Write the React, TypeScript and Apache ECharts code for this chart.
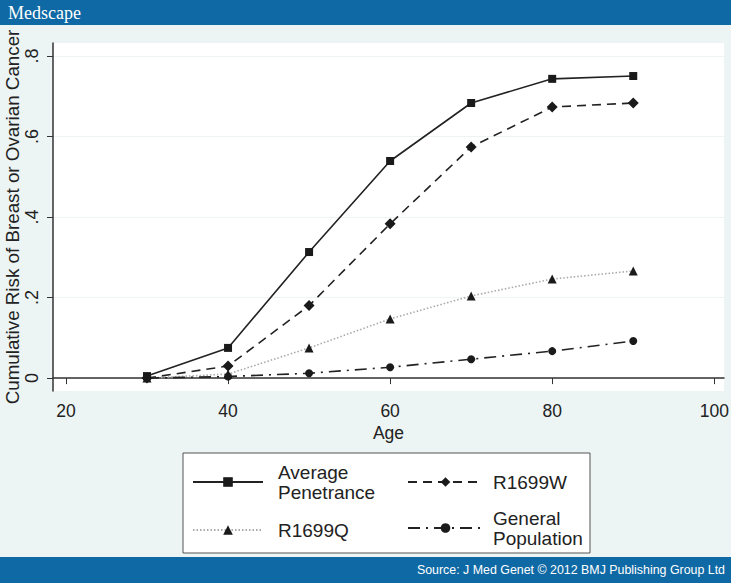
import React, { useEffect, useRef } from "react";
import * as echarts from "echarts";

const ages = [30, 40, 50, 60, 70, 80, 90];
const averagePenetrance = [0.005, 0.075, 0.313, 0.539, 0.683, 0.743, 0.75];
const r1699W = [0.0, 0.03, 0.18, 0.383, 0.574, 0.673, 0.683];
const r1699Q = [0.0, 0.01, 0.075, 0.147, 0.204, 0.246, 0.266];
const generalPopulation = [0.0, 0.004, 0.012, 0.027, 0.047, 0.067, 0.092];
const xTicks = [20, 40, 60, 80, 100];
const yTicks = [0, 0.2, 0.4, 0.6, 0.8];

const FONT = "Liberation Sans, Arial, sans-serif";
const BLUE = "#0f69a4";

function pairs(vals: number[]) {
  return ages.map((a, i) => [a, vals[i]]);
}

export default function App() {
  const ref = useRef<HTMLDivElement>(null);
  useEffect(() => {
    document.body.style.margin = "0";
    const chart = echarts.init(ref.current!, null, { renderer: "svg" });
    const legendBase = {
      orient: "vertical",
      padding: 0,
      itemHeight: 12,
      textStyle: { fontFamily: FONT, fontSize: 19, color: "#222", lineHeight: 20 },
      selectedMode: false,
    };
    chart.setOption({
      animation: false,
      backgroundColor: "#ecf4f4",
      grid: {
        left: 53,
        right: 7,
        top: 43,
        bottom: 192,
        containLabel: false,
        outerBoundsMode: "none",
        show: true,
        backgroundColor: "#ffffff",
        borderWidth: 0,
      },
      xAxis: {
        type: "value",
        min: 18.4,
        max: 101.2,
        name: "Age",
        nameLocation: "middle",
        nameGap: 33,
        nameMoveOverlap: false,
        nameTextStyle: { fontFamily: FONT, fontSize: 17.5, color: "#222" },
        axisLine: { show: true, lineStyle: { color: "#333", width: 1.5 } },
        axisTick: { show: true, inside: false, length: 6, customValues: xTicks, lineStyle: { color: "#333" } },
        axisLabel: { customValues: xTicks, margin: 11, fontFamily: FONT, fontSize: 17.5, color: "#222" },
        splitLine: { show: false },
      },
      yAxis: {
        type: "value",
        min: -0.032,
        max: 0.832,
        name: "Cumulative Risk of Breast or Ovarian Cancer",
        nameLocation: "middle",
        nameGap: 31,
        nameMoveOverlap: false,
        nameTextStyle: { fontFamily: FONT, fontSize: 18.8, color: "#222" },
        axisLine: { show: true, lineStyle: { color: "#333", width: 1.5 } },
        axisTick: { show: true, inside: false, length: 6, customValues: yTicks, lineStyle: { color: "#333" } },
        axisLabel: {
          customValues: yTicks,
          rotate: 90,
          margin: 12,
          fontFamily: FONT,
          fontSize: 18,
          color: "#222",
          formatter: (v: number) => (v === 0 ? "0" : String(Math.round(v * 10) / 10).replace(/^0\./, ".")),
        },
        splitLine: { show: true, lineStyle: { color: "#eef3f3", width: 1 } },
      },
      legend: [
        {
          ...legendBase,
          left: 192,
          top: 462,
          itemWidth: 70,
          data: ["Average Penetrance"],
          formatter: () => "Average\nPenetrance",
          textStyle: { ...legendBase.textStyle, padding: [0, 0, 0, 10] },
        },
        {
          ...legendBase,
          left: 192,
          top: 520,
          itemWidth: 70,
          data: ["R1699Q"],
          textStyle: { ...legendBase.textStyle, padding: [0, 0, 0, 10] },
        },
        {
          ...legendBase,
          left: 407,
          top: 472,
          itemWidth: 75,
          data: ["R1699W"],
          textStyle: { ...legendBase.textStyle, padding: [0, 0, 0, 5] },
        },
        {
          ...legendBase,
          left: 407,
          top: 508,
          itemWidth: 75,
          data: ["General Population"],
          formatter: () => "General\nPopulation",
          textStyle: { ...legendBase.textStyle, padding: [0, 0, 0, 5] },
        },
      ],
      graphic: [
        { type: "rect", shape: { x: 0, y: 0, width: 731, height: 25 }, style: { fill: BLUE }, z: 0 },
        {
          type: "text",
          x: 8,
          y: 13,
          style: {
            text: "Medscape",
            fill: "#ffffff",
            font: "18px 'Liberation Serif', 'DejaVu Serif', serif",
            textVerticalAlign: "middle",
          },
        },
        { type: "rect", shape: { x: 0, y: 557, width: 731, height: 26 }, style: { fill: BLUE } },
        {
          type: "text",
          x: 725,
          y: 570,
          style: {
            text: "Source: J Med Genet \u00a9 2012 BMJ Publishing Group Ltd",
            fill: "#ffffff",
            font: "12.4px 'Liberation Sans', Arial, sans-serif",
            textAlign: "right",
            textVerticalAlign: "middle",
          },
        },
        {
          type: "rect",
          shape: { x: 183, y: 453, width: 407, height: 100 },
          style: { fill: "#ffffff", stroke: "#555", lineWidth: 1 },
          z: 0,
        },
      ],
      series: [
        {
          name: "Average Penetrance",
          type: "line",
          data: pairs(averagePenetrance),
          symbol: "rect",
          symbolSize: 8,
          itemStyle: { color: "#1a1a1a" },
          lineStyle: { color: "#222", width: 1.6, type: "solid" },
        },
        {
          name: "R1699W",
          type: "line",
          data: pairs(r1699W),
          symbol: "diamond",
          symbolSize: 11,
          itemStyle: { color: "#1a1a1a" },
          lineStyle: { color: "#222", width: 1.6, type: [9, 6] },
        },
        {
          name: "R1699Q",
          type: "line",
          data: pairs(r1699Q),
          symbol: "triangle",
          symbolSize: 9,
          itemStyle: { color: "#1a1a1a" },
          lineStyle: { color: "#aaaaaa", width: 1.6, type: [1.5, 2] },
        },
        {
          name: "General Population",
          type: "line",
          data: pairs(generalPopulation),
          symbol: "circle",
          symbolSize: 8,
          itemStyle: { color: "#1a1a1a" },
          lineStyle: { color: "#222", width: 1.6, type: [12, 6, 2, 6] },
        },
      ],
    });
    return () => chart.dispose();
  }, []);
  return <div ref={ref} style={{ width: 731, height: 583 }} />;
}
